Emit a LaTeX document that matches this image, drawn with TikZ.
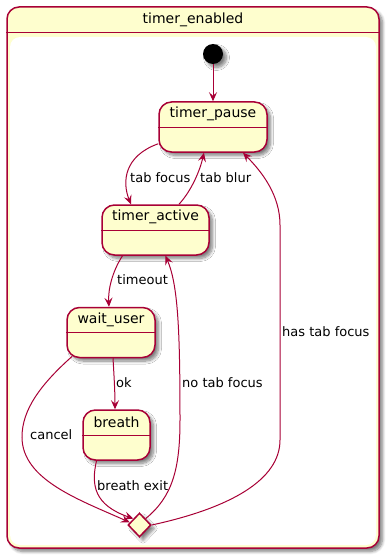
\documentclass[tikz,border=0pt]{standalone}
\usepackage{fontspec}
\setmainfont{DejaVu Sans}
\usetikzlibrary{arrows.meta,shapes.geometric,shadows.blur}
\definecolor{umlred}{HTML}{A80036}
\definecolor{umlfill}{HTML}{FEFECE}
\begin{document}
\begin{tikzpicture}[x=1pt,y=-1pt,
  softshadow/.style={blur shadow={shadow xshift=3.5pt,shadow yshift=-3.5pt,shadow blur radius=3pt,shadow blur steps=8,shadow opacity=50}},
  statebox/.style={rectangle,rounded corners=12.5pt,draw=umlred,fill=umlfill,line width=1.5pt,inner sep=0pt,softshadow},
  statename/.style={font=\fontsize{14}{16}\selectfont,inner sep=0pt},
  divider/.style={draw=umlred,line width=1.2pt},
  trans/.style={draw=umlred,line width=1pt,-{Stealth[length=9pt,width=8pt,inset=3.5pt]}},
  elabel/.style={font=\fontsize{13}{15}\selectfont,inner sep=0pt,anchor=west},
]
\useasboundingbox (0,0) rectangle (389,559);

% composite state
\node[statebox,rounded corners=12pt,minimum width=372pt,minimum height=541pt] (te) at (193,277.5) {};
\draw[divider] ([yshift=-26pt]te.north west) -- ([yshift=-26pt]te.north east);
\node[statename] (tename) at ([yshift=-13.5pt]te.north) {timer\_enabled};
\fill[white,rounded corners=10pt] (10,37) rectangle (376,545);

% initial pseudo-state
\node[circle,fill=black,minimum size=20pt,inner sep=0pt,softshadow] (init) at (213,54) {};

% simple states
\node[statebox,minimum width=108pt,minimum height=50pt] (tp) at (213,127) {};
\node[statename] (tpname) at ([yshift=-13pt]tp.north) {timer\_pause};
\draw[divider] ([yshift=-26pt]tp.north west) -- ([yshift=-26pt]tp.north east);

\node[statebox,minimum width=107pt,minimum height=50pt] (ta) at (155.5,230) {};
\node[statename] (taname) at ([yshift=-13pt]ta.north) {timer\_active};
\draw[divider] ([yshift=-26pt]ta.north west) -- ([yshift=-26pt]ta.north east);

\node[statebox,minimum width=88pt,minimum height=50pt] (wu) at (111,332.5) {};
\node[statename] (wuname) at ([yshift=-13pt]wu.north) {wait\_user};
\draw[divider] ([yshift=-26pt]wu.north west) -- ([yshift=-26pt]wu.north east);

\node[statebox,minimum width=67pt,minimum height=50pt] (br) at (116.5,435) {};
\node[statename] (brname) at ([yshift=-13pt]br.north) {breath};
\draw[divider] ([yshift=-26pt]br.north west) -- ([yshift=-26pt]br.north east);

% choice
\node[diamond,draw=umlred,fill=umlfill,line width=1.5pt,inner sep=0pt,minimum width=23pt,minimum height=24pt,softshadow] (ch) at (139.5,525) {};

% transitions
\draw[trans] (init) -- (tp);
\draw[trans] ([yshift=9pt]tp.south west) .. controls (124,156) and (122,182) .. ([xshift=-24.5pt]ta.north);
\draw[trans] ([xshift=23.5pt]ta.north) .. controls (192,190) and (200,170) .. ([xshift=-9pt]tp.south);
\draw[trans] ([xshift=-33pt]ta.south) .. controls (112,272) and (108,290) .. ([xshift=-2pt]wu.north);
\draw[trans] ([xshift=2pt]wu.south) .. controls (114,375) and (115,392) .. ([xshift=-1.5pt]br.north);
\draw[trans] ([xshift=6pt,yshift=2pt]wu.south west) .. controls (40,385) and (22,410) .. (22,437)
  .. controls (22,480) and (80,500) .. (ch.165);
\draw[trans] ([xshift=-20pt]br.south) .. controls (91,485) and (94,505) .. (ch.north west);
\draw[trans] (ch.north east) .. controls (172,497) and (180,470) .. (180,420)
  .. controls (180,330) and (178,285) .. ([xshift=10pt]ta.south);
\draw[trans] (ch.east) .. controls (230,508) and (280,480) .. (280,440) -- (280,225)
  .. controls (280,195) and (262,172) .. ([xshift=30pt]tp.south);

% transition labels
\node[elabel] (l1) at (130,178) {tab focus};
\node[elabel] (l2) at (200,178) {tab blur};
\node[elabel] (l3) at (117,280) {timeout};
\node[elabel] (l4) at (116,383) {ok};
\node[elabel] (l5) at (30,435) {cancel};
\node[elabel] (l6) at (97,486) {breath exit};
\node[elabel] (l7) at (182,383) {no tab focus};
\node[elabel] (l8) at (282,332) {has tab focus};
\end{tikzpicture}
\end{document}
